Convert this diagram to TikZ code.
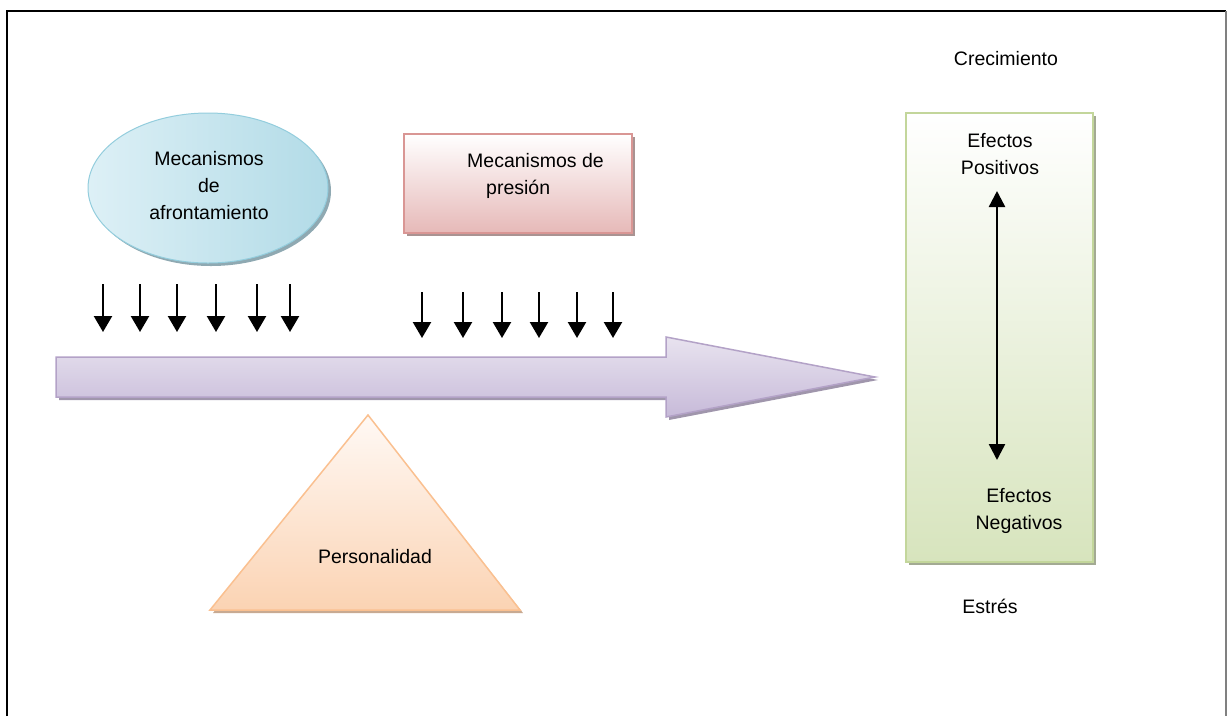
\documentclass[tikz,border=0pt]{standalone}
\usepackage{fontspec}
\setmainfont{Liberation Sans}
\usetikzlibrary{arrows.meta,shapes.geometric,shadows}

\definecolor{ellfillA}{HTML}{DDF0F6}
\definecolor{ellfillB}{HTML}{B2DBE7}
\definecolor{elledge}{HTML}{93CDDD}
\definecolor{ellshade}{HTML}{8FA9B2}
\definecolor{pinkA}{HTML}{FFFFFF}
\definecolor{pinkB}{HTML}{E6B9B8}
\definecolor{pinkedge}{HTML}{D99694}
\definecolor{pinkshade}{HTML}{A99392}
\definecolor{lavA}{HTML}{E8E3EF}
\definecolor{lavM}{HTML}{DED7E8}
\definecolor{lavB}{HTML}{C7BAD9}
\definecolor{lavedge}{HTML}{B3A2C7}
\definecolor{lavshade}{HTML}{A096AC}
\definecolor{peachA}{HTML}{FFF9F5}
\definecolor{peachB}{HTML}{FBD3B3}
\definecolor{peachedge}{HTML}{FAC090}
\definecolor{peachshade}{HTML}{C8AA92}
\definecolor{greenA}{HTML}{FFFFFF}
\definecolor{greenB}{HTML}{D7E4BD}
\definecolor{greenedge}{HTML}{C3D69B}
\definecolor{greenshade}{HTML}{A3AA93}

\tikzset{
  txt/.style={font=\fontsize{19.5}{27}\selectfont, align=center, inner sep=0pt},
  downarrow/.style={line width=2.4pt, -{Triangle[width=18pt,length=16pt]}},
  bothways/.style={line width=2.4pt, {Triangle[width=16pt,length=16pt]}-{Triangle[width=16pt,length=16pt]}},
  shade3/.style={drop shadow={shadow xshift=3pt, shadow yshift=-3pt, fill=#1, opacity=1}},
}

\begin{document}
\begin{tikzpicture}[x=1pt, y=-1pt]
\useasboundingbox (0,0) rectangle (1227,716);

% page frame
\draw[line width=2pt] (7,716) -- (7,11) -- (1226,11);
\draw[gray, line width=1.5pt] (1226,11) -- (1226,716);

% coping mechanisms (ellipse)
\node[ellipse, minimum width=240pt, minimum height=150pt, draw=elledge, line width=1pt,
      left color=ellfillA, right color=ellfillB, shade3=ellshade] (coping) at (208,188) {};
\node[txt] (copingtxt) at (209,186) {Mecanismos\\de\\afrontamiento};

% pressure mechanisms (box)
\node[rectangle, minimum width=228pt, minimum height=99pt, draw=pinkedge, line width=1.5pt,
      top color=pinkA, bottom color=pinkB, shade3=pinkshade] (pressure) at (518,183.5) {};
\node[txt, align=left, anchor=west] (pressuretxt) at (467,176) {Mecanismos de\\\hspace*{19pt}presión};

% effects column
\node[rectangle, minimum width=187pt, minimum height=449pt, draw=greenedge, line width=1.5pt,
      top color=greenA, bottom color=greenB, shade3=greenshade] (effects) at (999.5,337.5) {};
\node[txt] (pos) at (1000,154) {Efectos\\Positivos};
\node[txt] (neg) at (1019,511) {Efectos\\Negativos};
\coordinate (postip) at (997,191);
\coordinate (negtip) at (997,460);
\draw[bothways] (postip) -- (negtip);

\node[txt] (growth) at (1006,59) {Crecimiento};
\node[txt] (stress) at (990,606) {Estrés};

% main horizontal arrow
\fill[lavshade] (59,360) -- (669,360) -- (669,340) -- (878,380) -- (669,420) -- (669,400) -- (59,400) -- cycle;
\path[top color=lavA, middle color=lavM, bottom color=lavB] (56,357) -- (666,357) -- (666,337) -- (875,377) -- (666,417) -- (666,397) -- (56,397) -- cycle;
\draw[lavedge, line width=1.5pt, line join=miter] (56,357) -- (666,357) -- (666,337) -- (875,377) -- (666,417) -- (666,397) -- (56,397) -- cycle;

% personality (triangle)
\fill[peachshade] (370,418) -- (523,613) -- (213,613) -- cycle;
\path[top color=peachA, bottom color=peachB] (368,415) -- (520,610) -- (210,610) -- cycle;
\draw[peachedge, line width=1.5pt] (368,415) -- (520,610) -- (210,610) -- cycle;
\node[txt] (personality) at (375,557) {Personalidad};

% pressure on the path
\foreach \x [count=\i] in {103,140,177,216,257,290} {
  \coordinate (a\i) at (\x,284);
  \coordinate (b\i) at (\x,332);
  \draw[downarrow] (a\i) -- (b\i);
}
\foreach \x [count=\i] in {422,463,502,539,577,613} {
  \coordinate (c\i) at (\x,292);
  \coordinate (d\i) at (\x,338);
  \draw[downarrow] (c\i) -- (d\i);
}
\end{tikzpicture}
\end{document}
